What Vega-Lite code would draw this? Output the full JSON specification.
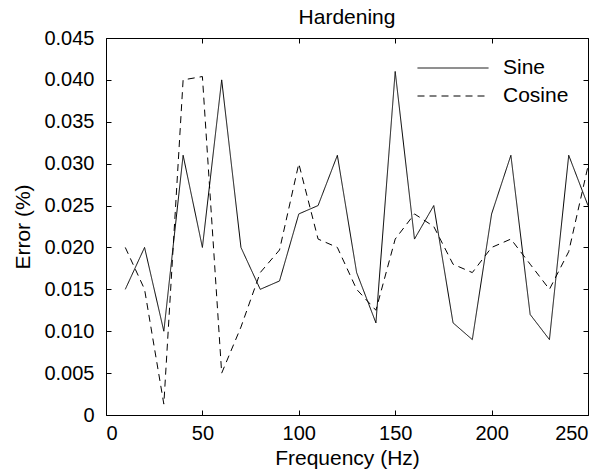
{
  "$schema": "https://vega.github.io/schema/vega-lite/v6.json",
  "autosize": {"type": "none"},
  "padding": {"left": 106, "top": 38, "right": 17, "bottom": 60},
  "width": 482,
  "height": 377,
  "background": "white",
  "config": {
    "font": "Liberation Sans",
    "view": {"stroke": "black", "strokeWidth": 1},
    "axis": {
      "grid": false,
      "domain": false,
      "tickColor": "black",
      "tickSize": -5,
      "labelColor": "black",
      "titleColor": "black",
      "labelFont": "Liberation Sans",
      "titleFont": "Liberation Sans",
      "labelFontSize": 20,
      "titleFontSize": 21,
      "titleFontWeight": "normal"
    }
  },
  "title": {
    "text": "Hardening",
    "fontSize": 21,
    "fontWeight": "normal",
    "font": "Liberation Sans",
    "color": "black",
    "offset": 0
  },
  "data": {
    "values": [
      {"f": 10, "series": "Sine", "err": 0.015},
      {"f": 20, "series": "Sine", "err": 0.020},
      {"f": 30, "series": "Sine", "err": 0.010},
      {"f": 40, "series": "Sine", "err": 0.031},
      {"f": 50, "series": "Sine", "err": 0.020},
      {"f": 60, "series": "Sine", "err": 0.040},
      {"f": 70, "series": "Sine", "err": 0.020},
      {"f": 80, "series": "Sine", "err": 0.015},
      {"f": 90, "series": "Sine", "err": 0.016},
      {"f": 100, "series": "Sine", "err": 0.024},
      {"f": 110, "series": "Sine", "err": 0.025},
      {"f": 120, "series": "Sine", "err": 0.031},
      {"f": 130, "series": "Sine", "err": 0.017},
      {"f": 140, "series": "Sine", "err": 0.011},
      {"f": 150, "series": "Sine", "err": 0.041},
      {"f": 160, "series": "Sine", "err": 0.021},
      {"f": 170, "series": "Sine", "err": 0.025},
      {"f": 180, "series": "Sine", "err": 0.011},
      {"f": 190, "series": "Sine", "err": 0.009},
      {"f": 200, "series": "Sine", "err": 0.024},
      {"f": 210, "series": "Sine", "err": 0.031},
      {"f": 220, "series": "Sine", "err": 0.012},
      {"f": 230, "series": "Sine", "err": 0.009},
      {"f": 240, "series": "Sine", "err": 0.031},
      {"f": 250, "series": "Sine", "err": 0.025},
      {"f": 10, "series": "Cosine", "err": 0.020},
      {"f": 20, "series": "Cosine", "err": 0.015},
      {"f": 30, "series": "Cosine", "err": 0.0013},
      {"f": 40, "series": "Cosine", "err": 0.040},
      {"f": 50, "series": "Cosine", "err": 0.0404},
      {"f": 60, "series": "Cosine", "err": 0.005},
      {"f": 70, "series": "Cosine", "err": 0.0105},
      {"f": 80, "series": "Cosine", "err": 0.017},
      {"f": 90, "series": "Cosine", "err": 0.0197},
      {"f": 100, "series": "Cosine", "err": 0.030},
      {"f": 110, "series": "Cosine", "err": 0.021},
      {"f": 120, "series": "Cosine", "err": 0.020},
      {"f": 130, "series": "Cosine", "err": 0.015},
      {"f": 140, "series": "Cosine", "err": 0.0125},
      {"f": 150, "series": "Cosine", "err": 0.021},
      {"f": 160, "series": "Cosine", "err": 0.024},
      {"f": 170, "series": "Cosine", "err": 0.0225},
      {"f": 180, "series": "Cosine", "err": 0.018},
      {"f": 190, "series": "Cosine", "err": 0.017},
      {"f": 200, "series": "Cosine", "err": 0.020},
      {"f": 210, "series": "Cosine", "err": 0.021},
      {"f": 220, "series": "Cosine", "err": 0.018},
      {"f": 230, "series": "Cosine", "err": 0.015},
      {"f": 240, "series": "Cosine", "err": 0.0195},
      {"f": 250, "series": "Cosine", "err": 0.0297}
    ]
  },
  "resolve": {"axis": {"x": "independent", "y": "independent"}},
  "layer": [
    {
      "mark": {"type": "line", "color": "black", "strokeWidth": 1, "clip": true},
      "encoding": {
        "x": {
          "field": "f", "type": "quantitative",
          "scale": {"domain": [0, 250], "nice": false, "zero": false},
          "axis": {"orient": "bottom", "values": [0, 50, 100, 150, 200, 250], "title": "Frequency (Hz)", "labelPadding": 13, "titlePadding": 4}
        },
        "y": {
          "field": "err", "type": "quantitative",
          "scale": {"domain": [0, 0.045], "nice": false},
          "axis": {
            "orient": "left",
            "values": [0, 0.005, 0.01, 0.015, 0.02, 0.025, 0.03, 0.035, 0.04, 0.045],
            "labelExpr": "datum.value == 0 ? '0' : format(datum.value, '.3f')",
            "title": "Error (%)",
            "labelPadding": 17,
            "titlePadding": 10
          }
        },
        "strokeDash": {
          "field": "series", "type": "nominal",
          "scale": {"domain": ["Sine", "Cosine"], "range": [[1, 0], [7, 5]]},
          "legend": {
            "title": null,
            "orient": "none",
            "legendX": 311,
            "legendY": 16,
            "symbolType": "stroke",
            "symbolSize": 5041,
            "symbolStrokeColor": "black",
            "symbolStrokeWidth": 1,
            "clipHeight": 28,
            "rowPadding": 0,
            "labelOffset": 14,
            "labelFontSize": 21,
            "labelFont": "Liberation Sans",
            "labelColor": "black"
          }
        },
        "detail": {"field": "series"}
      }
    },
    {
      "mark": {"type": "point", "opacity": 0},
      "encoding": {
        "x": {
          "field": "f", "type": "quantitative",
          "axis": {"orient": "top", "values": [0, 50, 100, 150, 200, 250], "labels": false, "title": null}
        },
        "y": {
          "field": "err", "type": "quantitative",
          "axis": {"orient": "right", "values": [0, 0.005, 0.01, 0.015, 0.02, 0.025, 0.03, 0.035, 0.04, 0.045], "labels": false, "title": null}
        }
      }
    }
  ]
}
